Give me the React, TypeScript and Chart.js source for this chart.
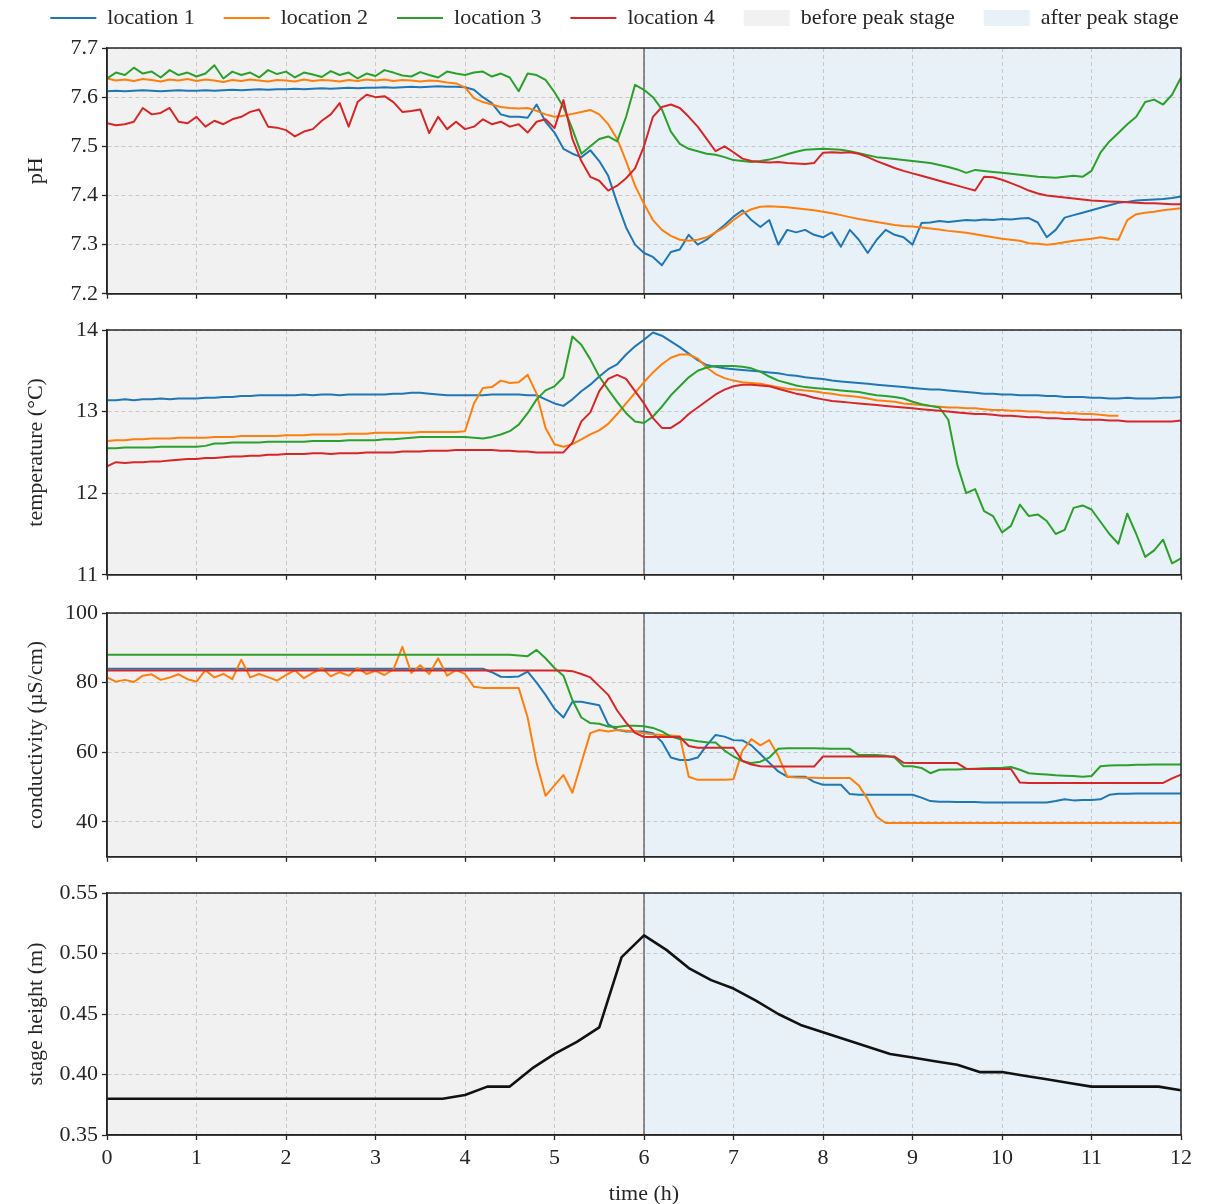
import React, { useEffect, useRef } from 'react';
import { Chart, registerables } from 'chart.js';

Chart.register(...registerables);

// ---------------- data ----------------
const TIME_H = [
  0, 0.1, 0.2, 0.3, 0.4, 0.5, 0.6, 0.7, 0.8, 0.9,
  1, 1.1, 1.2, 1.3, 1.4, 1.5, 1.6, 1.7, 1.8, 1.9,
  2, 2.1, 2.2, 2.3, 2.4, 2.5, 2.6, 2.7, 2.8, 2.9,
  3, 3.1, 3.2, 3.3, 3.4, 3.5, 3.6, 3.7, 3.8, 3.9,
  4, 4.1, 4.2, 4.3, 4.4, 4.5, 4.6, 4.7, 4.8, 4.9,
  5, 5.1, 5.2, 5.3, 5.4, 5.5, 5.6, 5.7, 5.8, 5.9,
  6, 6.1, 6.2, 6.3, 6.4, 6.5, 6.6, 6.7, 6.8, 6.9,
  7, 7.1, 7.2, 7.3, 7.4, 7.5, 7.6, 7.7, 7.8, 7.9,
  8, 8.1, 8.2, 8.3, 8.4, 8.5, 8.6, 8.7, 8.8, 8.9,
  9, 9.1, 9.2, 9.3, 9.4, 9.5, 9.6, 9.7, 9.8, 9.9,
  10, 10.1, 10.2, 10.3, 10.4, 10.5, 10.6, 10.7, 10.8, 10.9,
  11, 11.1, 11.2, 11.3, 11.4, 11.5, 11.6, 11.7, 11.8, 11.9,
  12,
];

const LOCATIONS = ['location 1', 'location 2', 'location 3', 'location 4'];
const STAGE_LABELS = ['before peak stage', 'after peak stage'];
const PEAK_TIME_H = 6;

const PH_LOC1 = [
  7.612, 7.613, 7.612, 7.613, 7.614, 7.613, 7.612, 7.613, 7.614, 7.613,
  7.613, 7.614, 7.613, 7.614, 7.615, 7.614, 7.615, 7.616, 7.615, 7.616,
  7.616, 7.617, 7.616, 7.617, 7.618, 7.617, 7.618, 7.619, 7.618, 7.619,
  7.619, 7.620, 7.619, 7.620, 7.621, 7.620, 7.621, 7.622, 7.621, 7.621,
  7.620, 7.615, 7.600, 7.588, 7.565, 7.560, 7.560, 7.558, 7.585, 7.550,
  7.528, 7.495, 7.485, 7.478, 7.492, 7.470, 7.440, 7.385, 7.335, 7.300,
  7.283, 7.275, 7.258, 7.285, 7.290, 7.320, 7.300, 7.310, 7.325, 7.340,
  7.357, 7.370, 7.350, 7.336, 7.350, 7.300, 7.330, 7.325, 7.330, 7.320,
  7.315, 7.325, 7.296, 7.330, 7.310, 7.283, 7.310, 7.330, 7.320, 7.315,
  7.300, 7.344, 7.345, 7.348, 7.346, 7.348, 7.350, 7.349, 7.351, 7.350,
  7.352, 7.351, 7.353, 7.354, 7.345, 7.315, 7.330, 7.355, 7.360, 7.365,
  7.370, 7.375, 7.380, 7.385, 7.387, 7.390, 7.391, 7.392, 7.393, 7.395,
  7.398,
];
const PH_LOC2 = [
  7.638, 7.634, 7.636, 7.633, 7.637, 7.635, 7.632, 7.636, 7.634, 7.637,
  7.633, 7.636, 7.634, 7.631, 7.635, 7.633, 7.636, 7.634, 7.632, 7.635,
  7.634, 7.632, 7.636, 7.633, 7.635, 7.634, 7.632, 7.635, 7.633, 7.636,
  7.634, 7.636, 7.633, 7.635, 7.634, 7.632, 7.634, 7.633, 7.630, 7.628,
  7.620, 7.598, 7.590, 7.585, 7.580, 7.578, 7.577, 7.578, 7.572, 7.565,
  7.560, 7.562, 7.566, 7.570, 7.574, 7.565, 7.545, 7.515, 7.470, 7.420,
  7.383, 7.350, 7.330, 7.318, 7.310, 7.308, 7.310, 7.315, 7.325, 7.335,
  7.350, 7.363, 7.372, 7.377, 7.378, 7.377, 7.376, 7.374, 7.372, 7.370,
  7.367, 7.364, 7.360, 7.356, 7.352, 7.349, 7.346, 7.343, 7.340, 7.338,
  7.337, 7.335, 7.333, 7.331, 7.328, 7.326, 7.324, 7.321, 7.318, 7.315,
  7.312, 7.310, 7.308, 7.303, 7.302, 7.300, 7.302, 7.305, 7.308, 7.310,
  7.312, 7.315, 7.312, 7.310, 7.350, 7.362, 7.365, 7.367, 7.370, 7.372,
  7.374,
];
const PH_LOC3 = [
  7.638, 7.650, 7.645, 7.660, 7.648, 7.652, 7.640, 7.655, 7.645, 7.650,
  7.642, 7.648, 7.665, 7.638, 7.652, 7.645, 7.650, 7.640, 7.655, 7.647,
  7.652, 7.640, 7.650, 7.646, 7.641, 7.653, 7.645, 7.650, 7.638, 7.648,
  7.643, 7.655, 7.650, 7.644, 7.642, 7.651, 7.645, 7.640, 7.652, 7.648,
  7.645, 7.650, 7.652, 7.642, 7.648, 7.640, 7.612, 7.648, 7.645, 7.635,
  7.610, 7.580, 7.535, 7.485, 7.500, 7.515, 7.520, 7.510, 7.560, 7.625,
  7.615, 7.600, 7.575, 7.530, 7.505, 7.495, 7.490, 7.485, 7.483, 7.478,
  7.472, 7.470, 7.468, 7.470, 7.473, 7.478, 7.484, 7.489, 7.493, 7.494,
  7.495, 7.494, 7.493, 7.490, 7.486, 7.482, 7.478, 7.476, 7.474, 7.472,
  7.470, 7.468, 7.466, 7.462, 7.458, 7.453, 7.446, 7.452, 7.450, 7.448,
  7.446, 7.444, 7.442, 7.440, 7.438, 7.437, 7.436, 7.438, 7.440, 7.438,
  7.450, 7.487, 7.510, 7.527, 7.545, 7.560, 7.590, 7.595, 7.585, 7.605,
  7.640,
];
const PH_LOC4 = [
  7.547, 7.543, 7.545, 7.550, 7.578, 7.565, 7.568, 7.578, 7.550, 7.547,
  7.560, 7.540, 7.552, 7.545, 7.555, 7.560, 7.570, 7.575, 7.540, 7.538,
  7.533, 7.520, 7.530, 7.535, 7.552, 7.565, 7.588, 7.540, 7.590, 7.605,
  7.600, 7.602, 7.590, 7.570, 7.572, 7.575, 7.527, 7.560, 7.535, 7.550,
  7.535, 7.540, 7.555, 7.545, 7.550, 7.540, 7.545, 7.528, 7.550, 7.555,
  7.537, 7.594, 7.515, 7.470, 7.438, 7.430, 7.410, 7.420, 7.435, 7.455,
  7.500, 7.560, 7.580, 7.585, 7.578, 7.560, 7.540, 7.515, 7.490, 7.500,
  7.488, 7.475, 7.470, 7.468, 7.467, 7.468, 7.466, 7.465, 7.464, 7.466,
  7.487, 7.488, 7.487, 7.488, 7.485, 7.478, 7.470, 7.463, 7.456, 7.450,
  7.445, 7.440, 7.435, 7.430, 7.425, 7.420, 7.415, 7.410, 7.438, 7.437,
  7.432, 7.425, 7.418, 7.410, 7.404, 7.400, 7.398, 7.396, 7.394, 7.392,
  7.390, 7.389, 7.388, 7.387, 7.386, 7.385, 7.384, 7.384, 7.383, 7.382,
  7.382,
];

const TEMP_LOC1 = [
  13.14, 13.14, 13.15, 13.14, 13.15, 13.15, 13.16, 13.15, 13.16, 13.16,
  13.16, 13.17, 13.17, 13.18, 13.18, 13.19, 13.19, 13.20, 13.20, 13.20,
  13.20, 13.20, 13.21, 13.20, 13.21, 13.21, 13.20, 13.21, 13.21, 13.21,
  13.21, 13.21, 13.22, 13.22, 13.23, 13.23, 13.22, 13.21, 13.20, 13.20,
  13.20, 13.20, 13.20, 13.21, 13.21, 13.21, 13.21, 13.20, 13.20, 13.15,
  13.10, 13.07, 13.15, 13.25, 13.33, 13.43, 13.52, 13.58, 13.70, 13.80,
  13.88, 13.97, 13.93, 13.86, 13.79, 13.71, 13.63, 13.57, 13.55, 13.53,
  13.52, 13.51, 13.50, 13.49, 13.48, 13.47, 13.45, 13.44, 13.42, 13.41,
  13.40, 13.38, 13.37, 13.36, 13.35, 13.34, 13.33, 13.32, 13.31, 13.30,
  13.29, 13.28, 13.27, 13.27, 13.26, 13.25, 13.24, 13.23, 13.22, 13.22,
  13.21, 13.21, 13.20, 13.20, 13.20, 13.19, 13.19, 13.18, 13.18, 13.18,
  13.17, 13.17, 13.16, 13.16, 13.17, 13.16, 13.16, 13.16, 13.17, 13.17,
  13.18,
];
const TEMP_LOC2 = [
  12.64, 12.65, 12.65, 12.66, 12.66, 12.67, 12.67, 12.67, 12.68, 12.68,
  12.68, 12.68, 12.69, 12.69, 12.69, 12.70, 12.70, 12.70, 12.70, 12.70,
  12.71, 12.71, 12.71, 12.72, 12.72, 12.72, 12.72, 12.73, 12.73, 12.73,
  12.74, 12.74, 12.74, 12.74, 12.74, 12.75, 12.75, 12.75, 12.75, 12.75,
  12.76, 13.10, 13.29, 13.30, 13.38, 13.35, 13.36, 13.45, 13.22, 12.80,
  12.60, 12.57, 12.60, 12.66, 12.72, 12.77, 12.85, 12.97, 13.10, 13.23,
  13.36, 13.48, 13.58, 13.66, 13.70, 13.70, 13.65, 13.54, 13.46, 13.41,
  13.38, 13.36, 13.35, 13.34, 13.32, 13.30, 13.28, 13.27, 13.26, 13.25,
  13.23, 13.22, 13.20, 13.19, 13.18, 13.16, 13.14, 13.13, 13.12, 13.10,
  13.09, 13.08, 13.07, 13.06, 13.05, 13.05, 13.04, 13.04, 13.03, 13.02,
  13.02, 13.01, 13.01, 13.00, 13.00, 12.99, 12.99, 12.98, 12.98, 12.97,
  12.97, 12.96, 12.95, 12.95, null, null, null, null, null, null,
  null,
];
const TEMP_LOC3 = [
  12.55, 12.55, 12.56, 12.56, 12.56, 12.56, 12.57, 12.57, 12.57, 12.57,
  12.57, 12.58, 12.61, 12.61, 12.62, 12.62, 12.62, 12.62, 12.63, 12.63,
  12.63, 12.63, 12.63, 12.64, 12.64, 12.64, 12.64, 12.65, 12.65, 12.65,
  12.65, 12.66, 12.66, 12.67, 12.68, 12.69, 12.69, 12.69, 12.69, 12.69,
  12.69, 12.68, 12.67, 12.69, 12.72, 12.76, 12.84, 12.98, 13.15, 13.26,
  13.31, 13.42, 13.92, 13.82, 13.64, 13.43, 13.27, 13.12, 12.98, 12.88,
  12.86, 12.94, 13.06, 13.20, 13.31, 13.42, 13.50, 13.54, 13.56, 13.56,
  13.56, 13.55, 13.53, 13.49, 13.43, 13.38, 13.35, 13.32, 13.30, 13.29,
  13.28, 13.27, 13.26, 13.25, 13.24, 13.22, 13.20, 13.19, 13.18, 13.16,
  13.12, 13.09, 13.07, 13.05, 12.90, 12.35, 12.00, 12.05, 11.78, 11.72,
  11.52, 11.60, 11.86, 11.72, 11.74, 11.66, 11.50, 11.55, 11.82, 11.85,
  11.80, 11.65, 11.50, 11.38, 11.75, 11.50, 11.22, 11.30, 11.43, 11.14,
  11.20,
];
const TEMP_LOC4 = [
  12.33, 12.38, 12.37, 12.38, 12.38, 12.39, 12.39, 12.40, 12.41, 12.42,
  12.42, 12.43, 12.43, 12.44, 12.45, 12.45, 12.46, 12.46, 12.47, 12.47,
  12.48, 12.48, 12.48, 12.49, 12.49, 12.48, 12.49, 12.49, 12.49, 12.50,
  12.50, 12.50, 12.50, 12.51, 12.51, 12.51, 12.52, 12.52, 12.52, 12.53,
  12.53, 12.53, 12.53, 12.53, 12.52, 12.52, 12.51, 12.51, 12.50, 12.50,
  12.50, 12.50, 12.62, 12.88, 12.99, 13.25, 13.40, 13.45, 13.40, 13.25,
  13.10, 12.92, 12.80, 12.80, 12.87, 12.97, 13.05, 13.13, 13.21, 13.27,
  13.31, 13.33, 13.33, 13.32, 13.31, 13.28, 13.25, 13.22, 13.20, 13.17,
  13.15, 13.13, 13.12, 13.11, 13.10, 13.09, 13.08, 13.07, 13.06, 13.05,
  13.04, 13.03, 13.02, 13.01, 13.00, 12.99, 12.98, 12.97, 12.97, 12.96,
  12.95, 12.95, 12.94, 12.93, 12.93, 12.92, 12.92, 12.91, 12.91, 12.90,
  12.90, 12.90, 12.89, 12.89, 12.88, 12.88, 12.88, 12.88, 12.88, 12.88,
  12.89,
];

const COND_LOC1 = [
  84.0, 84.0, 84.0, 84.0, 84.0, 84.0, 84.0, 84.0, 84.0, 84.0,
  84.0, 84.0, 84.0, 84.0, 84.0, 84.0, 84.0, 84.0, 84.0, 84.0,
  84.0, 84.0, 84.0, 84.0, 84.0, 84.0, 84.0, 84.0, 84.0, 84.0,
  84.0, 84.0, 84.0, 84.0, 84.0, 84.0, 84.0, 84.0, 84.0, 84.0,
  84.0, 84.0, 84.0, 83.0, 81.7, 81.6, 81.8, 83.2, 80.0, 76.5,
  72.5, 70.0, 74.5, 74.5, 74.0, 73.5, 68.0, 66.5, 66.0, 66.0,
  66.0, 65.5, 63.0, 58.5, 57.8, 57.8, 58.5, 62.0, 65.0, 64.5,
  63.5, 63.4, 62.0, 59.5, 57.0, 54.5, 53.0, 53.0, 53.0, 51.5,
  50.7, 50.7, 50.7, 48.0, 47.8, 47.8, 47.8, 47.8, 47.8, 47.8,
  47.8, 47.0, 46.0, 45.8, 45.8, 45.7, 45.7, 45.7, 45.6, 45.6,
  45.6, 45.6, 45.6, 45.6, 45.6, 45.6, 46.0, 46.5, 46.2, 46.3,
  46.3, 46.5, 47.8, 48.1, 48.1, 48.2, 48.2, 48.2, 48.2, 48.2,
  48.2,
];
const COND_LOC2 = [
  81.5, 80.3, 80.8, 80.2, 82.0, 82.4, 80.8, 81.5, 82.4, 81.0,
  80.3, 83.6, 81.5, 82.5, 81.0, 86.6, 81.5, 82.5, 81.6, 80.6,
  82.2, 83.5, 81.3, 82.8, 84.2, 81.8, 83.0, 82.0, 84.2, 82.5,
  83.4, 82.2, 83.8, 90.3, 82.8, 85.0, 82.5, 87.0, 82.0, 83.6,
  82.5, 78.8, 78.5, 78.5, 78.5, 78.5, 78.5, 70.0, 56.9, 47.5,
  50.5, 53.5, 48.4, 57.0, 65.5, 66.4, 66.0, 66.4, 66.2, 66.0,
  65.5, 65.2, 65.0, 64.8, 64.6, 53.0, 52.1, 52.1, 52.1, 52.1,
  52.3, 60.5, 63.8, 62.0, 63.5, 59.0, 53.0, 52.8, 52.7, 52.7,
  52.6, 52.6, 52.6, 52.6, 50.5, 46.5, 41.5, 39.7, 39.7, 39.7,
  39.7, 39.7, 39.7, 39.7, 39.7, 39.7, 39.7, 39.7, 39.7, 39.7,
  39.7, 39.7, 39.7, 39.7, 39.7, 39.7, 39.7, 39.7, 39.7, 39.7,
  39.7, 39.7, 39.7, 39.7, 39.7, 39.7, 39.7, 39.7, 39.7, 39.7,
  39.7,
];
const COND_LOC3 = [
  88.0, 88.0, 88.0, 88.0, 88.0, 88.0, 88.0, 88.0, 88.0, 88.0,
  88.0, 88.0, 88.0, 88.0, 88.0, 88.0, 88.0, 88.0, 88.0, 88.0,
  88.0, 88.0, 88.0, 88.0, 88.0, 88.0, 88.0, 88.0, 88.0, 88.0,
  88.0, 88.0, 88.0, 88.0, 88.0, 88.0, 88.0, 88.0, 88.0, 88.0,
  88.0, 88.0, 88.0, 88.0, 88.0, 88.0, 87.8, 87.6, 89.4, 87.0,
  84.2, 82.0, 75.0, 70.0, 68.4, 68.2, 67.4, 67.3, 67.6, 67.6,
  67.5, 67.0, 66.0, 64.5, 63.8, 63.6, 63.2, 62.9, 62.8, 60.5,
  58.8, 57.5, 56.9, 57.3, 58.5, 61.0, 61.2, 61.2, 61.2, 61.2,
  61.1, 61.0, 61.0, 61.0, 59.2, 59.2, 59.2, 59.0, 58.5, 56.0,
  56.0, 55.5, 54.0, 55.0, 55.1, 55.1, 55.2, 55.3, 55.4, 55.5,
  55.6, 55.8, 55.0, 54.0, 53.8, 53.6, 53.4, 53.3, 53.2, 53.0,
  53.2, 56.0, 56.2, 56.3, 56.3, 56.4, 56.4, 56.5, 56.5, 56.5,
  56.5,
];
const COND_LOC4 = [
  83.5, 83.5, 83.5, 83.5, 83.5, 83.5, 83.5, 83.5, 83.5, 83.5,
  83.5, 83.5, 83.5, 83.5, 83.5, 83.5, 83.5, 83.5, 83.5, 83.5,
  83.5, 83.5, 83.5, 83.5, 83.5, 83.5, 83.5, 83.5, 83.5, 83.5,
  83.5, 83.5, 83.5, 83.5, 83.5, 83.5, 83.5, 83.5, 83.5, 83.5,
  83.5, 83.5, 83.5, 83.5, 83.5, 83.5, 83.5, 83.5, 83.5, 83.5,
  83.5, 83.5, 83.3, 82.5, 81.5, 79.0, 76.5, 72.0, 68.5, 65.6,
  64.4, 64.4, 64.4, 64.4, 64.4, 61.8, 61.3, 61.3, 61.3, 61.3,
  61.3, 57.5, 56.5, 56.0, 55.9, 55.9, 55.9, 55.9, 55.9, 55.9,
  58.8, 58.8, 58.8, 58.8, 58.8, 58.8, 58.8, 58.8, 58.8, 57.0,
  56.9, 56.9, 56.9, 56.9, 56.9, 56.9, 55.3, 55.2, 55.2, 55.2,
  55.2, 55.2, 51.3, 51.2, 51.2, 51.2, 51.2, 51.2, 51.2, 51.2,
  51.2, 51.2, 51.2, 51.2, 51.2, 51.2, 51.2, 51.2, 51.2, 52.5,
  53.6,
];

const STAGE_TIME_H = [
  0, 0.25, 0.5, 0.75, 1, 1.25, 1.5, 1.75, 2, 2.25, 2.5, 2.75, 3, 3.25, 3.5, 3.75,
  4, 4.25, 4.5, 4.75, 5, 5.25, 5.5, 5.75, 6, 6.25, 6.5, 6.75, 7, 7.25, 7.5, 7.75,
  8, 8.25, 8.5, 8.75, 9, 9.25, 9.5, 9.75, 10, 10.25, 10.5, 10.75, 11, 11.25, 11.5, 11.75,
  12,
];
const STAGE_M = [
  0.380, 0.380, 0.380, 0.380, 0.380, 0.380, 0.380, 0.380, 0.380, 0.380, 0.380, 0.380, 0.380, 0.380, 0.380, 0.380,
  0.383, 0.390, 0.390, 0.405, 0.417, 0.427, 0.439, 0.497, 0.515, 0.503, 0.488, 0.478, 0.471, 0.461, 0.450, 0.441,
  0.435, 0.429, 0.423, 0.417, 0.414, 0.411, 0.408, 0.402, 0.402, 0.399, 0.396, 0.393, 0.390, 0.390, 0.390, 0.390,
  0.387,
];

const X_TICKS = [0, 1, 2, 3, 4, 5, 6, 7, 8, 9, 10, 11, 12];
const PH_TICKS = [7.2, 7.3, 7.4, 7.5, 7.6, 7.7];
const TEMP_TICKS = [11, 12, 13, 14];
const COND_TICKS = [40, 60, 80, 100];
const STAGE_TICKS = [0.35, 0.4, 0.45, 0.5, 0.55];

// ---------------- styles / geometry ----------------
const FONT_FAMILY = '"Liberation Serif", "Times New Roman", Times, serif';
const FONT_SIZE = 22;
const TEXT_COLOR = '#262626';
const AXIS_COLOR = '#262626';
const GRID_COLOR = 'rgba(150,150,150,0.45)';
const LINE_COLORS = ['#1f77b4', '#ff7f0e', '#2ca02c', '#d62728'];
const STAGE_LINE_COLOR = '#111111';
const BEFORE_BG = '#f1f1f1';
const AFTER_BG = '#e8f1f8';
const PEAK_LINE_COLOR = 'rgba(80,80,80,0.95)';
const CANVAS_W = 1211;
const Y_AXIS_W = 107;
const Y_TITLE_PAD = 23;
const RIGHT_GAP = 30;

type Panel = {
  id: string;
  top: number;
  height: number;
  areaTop: number;
  padLeft: number;
  xHeight: number;
  showX: boolean;
  legend: boolean;
  yMin: number;
  yMax: number;
  yTicks: number[];
  digits: number;
  title: string;
  series: { times: number[]; values: (number | null)[]; color: string; width: number; label: string }[];
};

const sensorSeries = (arrs: (number | null)[][]) =>
  arrs.map((values, i) => ({ times: TIME_H, values, color: LINE_COLORS[i], width: 2, label: LOCATIONS[i] }));

const PANELS: Panel[] = [
  {
    id: 'ph', top: -22, height: 333, areaTop: 70, padLeft: 18, xHeight: 17, showX: false, legend: true,
    yMin: 7.2, yMax: 7.7, yTicks: PH_TICKS, digits: 1, title: 'pH',
    series: sensorSeries([PH_LOC1, PH_LOC2, PH_LOC3, PH_LOC4]),
  },
  {
    id: 'temp', top: 313, height: 279, areaTop: 17, padLeft: 0, xHeight: 17, showX: false, legend: false,
    yMin: 11, yMax: 14, yTicks: TEMP_TICKS, digits: 0, title: 'temperature (°C)',
    series: sensorSeries([TEMP_LOC1, TEMP_LOC2, TEMP_LOC3, TEMP_LOC4]),
  },
  {
    id: 'cond', top: 596, height: 278, areaTop: 17, padLeft: 0, xHeight: 17, showX: false, legend: false,
    yMin: 30, yMax: 100, yTicks: COND_TICKS, digits: 0, title: 'conductivity (µS/cm)',
    series: sensorSeries([COND_LOC1, COND_LOC2, COND_LOC3, COND_LOC4]),
  },
  {
    id: 'stage', top: 876, height: 331, areaTop: 17, padLeft: 0, xHeight: 72, showX: true, legend: false,
    yMin: 0.35, yMax: 0.55, yTicks: STAGE_TICKS, digits: 2, title: 'stage height (m)',
    series: [{ times: STAGE_TIME_H, values: STAGE_M, color: STAGE_LINE_COLOR, width: 2.6, label: 'stage height' }],
  },
];

const font = { family: FONT_FAMILY, size: FONT_SIZE };

const stagePlugin = {
  id: 'peakStages',
  afterLayout(chart: any) {
    // keep the legend row at the very top of the canvas
    const lg = chart.legend;
    if (lg && lg.options && lg.options.display) {
      const h = lg.height;
      lg.top = 0;
      lg.bottom = h;
    }
  },
  beforeDraw(chart: any) {
    const { ctx, chartArea: a, scales } = chart;
    const x = scales.x;
    const xs = x.getPixelForValue(X_TICKS[0]);
    const xp = x.getPixelForValue(PEAK_TIME_H);
    const xe = x.getPixelForValue(X_TICKS[X_TICKS.length - 1]);
    ctx.save();
    ctx.fillStyle = BEFORE_BG;
    ctx.fillRect(xs, a.top, xp - xs, a.bottom - a.top);
    ctx.fillStyle = AFTER_BG;
    ctx.fillRect(xp, a.top, xe - xp, a.bottom - a.top);
    ctx.restore();
  },
  beforeDatasetsDraw(chart: any) {
    const { ctx, chartArea: a, scales } = chart;
    const xp = scales.x.getPixelForValue(PEAK_TIME_H);
    ctx.save();
    ctx.strokeStyle = PEAK_LINE_COLOR;
    ctx.lineWidth = 1.3;
    ctx.beginPath();
    ctx.moveTo(xp, a.top);
    ctx.lineTo(xp, a.bottom);
    ctx.stroke();
    ctx.restore();
  },
  afterDraw(chart: any) {
    const { ctx, chartArea: a } = chart;
    ctx.save();
    ctx.strokeStyle = AXIS_COLOR;
    ctx.lineWidth = 1.5;
    ctx.strokeRect(a.left, a.top, a.right - a.left, a.bottom - a.top);
    ctx.restore();
  },
};

function legendItems() {
  const lines = LOCATIONS.map((text, i) => ({
    text,
    fillStyle: LINE_COLORS[i],
    strokeStyle: LINE_COLORS[i],
    lineWidth: 2,
    pointStyle: 'line',
    hidden: false,
    datasetIndex: i,
    fontColor: TEXT_COLOR,
  }));
  const spans = STAGE_LABELS.map((text, i) => ({
    text,
    fillStyle: i === 0 ? BEFORE_BG : AFTER_BG,
    strokeStyle: 'rgba(0,0,0,0)',
    lineWidth: 0,
    pointStyle: 'rect',
    hidden: false,
    fontColor: TEXT_COLOR,
  }));
  return [...lines, ...spans];
}

function buildConfig(p: Panel): any {
  const datasets = p.series.map((s, i) => ({
    label: s.label,
    data: s.times.map((t, k) => ({ x: t, y: s.values[k] })),
    borderColor: s.color,
    backgroundColor: s.color,
    borderWidth: s.width,
    pointRadius: 0,
    tension: 0,
    fill: false,
    spanGaps: false,
    borderJoinStyle: 'round',
    order: p.series.length - i,
  }));
  const gridOpts = {
    color: GRID_COLOR,
    lineWidth: 1,
    drawTicks: true,
    tickLength: 5,
    tickColor: AXIS_COLOR,
    tickWidth: 1.3,
    tickBorderDash: [],
  };
  return {
    type: 'line',
    data: { datasets },
    plugins: [stagePlugin],
    options: {
      animation: false,
      responsive: false,
      maintainAspectRatio: false,
      events: [],
      layout: { padding: { top: p.legend ? 0 : p.areaTop, left: p.padLeft, right: 0, bottom: 0 } },
      plugins: {
        tooltip: { enabled: false },
        legend: p.legend
          ? {
              display: true,
              position: 'top',
              align: 'center',
              labels: {
                usePointStyle: true,
                pointStyleWidth: 46,
                boxHeight: 16,
                padding: 29,
                font,
                color: TEXT_COLOR,
                generateLabels: legendItems,
              },
            }
          : { display: false },
      },
      scales: {
        x: {
          type: 'linear',
          min: X_TICKS[0],
          max: X_TICKS[X_TICKS.length - 1],
          afterBuildTicks: (s: any) => {
            s.ticks = X_TICKS.map((v) => ({ value: v }));
          },
          afterFit: (s: any) => {
            s.height = p.xHeight;
            s.paddingRight = RIGHT_GAP;
          },
          ticks: {
            display: p.showX,
            font,
            color: TEXT_COLOR,
            padding: 5,
            maxRotation: 0,
            autoSkip: false,
            callback: (v: any) => String(v),
          },
          grid: gridOpts,
          border: { display: true, color: AXIS_COLOR, width: 1.5, dash: [4, 3] },
          title: { display: p.showX, text: 'time (h)', font, color: TEXT_COLOR, padding: 0 },
        },
        y: {
          type: 'linear',
          min: p.yMin,
          max: p.yMax,
          afterBuildTicks: (s: any) => {
            s.ticks = p.yTicks.map((v) => ({ value: v }));
          },
          afterFit: (s: any) => {
            s.width = Y_AXIS_W - p.padLeft;
            s.paddingTop = p.areaTop;
          },
          ticks: {
            font,
            color: TEXT_COLOR,
            padding: 4,
            callback: (v: any) => Number(v).toFixed(p.digits),
          },
          grid: gridOpts,
          border: { display: true, color: AXIS_COLOR, width: 1.5, dash: [4, 3] },
          title: {
            display: true,
            text: p.title,
            font,
            color: TEXT_COLOR,
            padding: { top: Y_TITLE_PAD - p.padLeft, bottom: 0 },
          },
        },
      },
    },
  };
}

function PanelChart({ panel }: { panel: Panel }) {
  const ref = useRef<HTMLCanvasElement | null>(null);
  useEffect(() => {
    if (!ref.current) return;
    const chart = new Chart(ref.current, buildConfig(panel));
    return () => chart.destroy();
  }, [panel]);
  return (
    <canvas
      ref={ref}
      width={CANVAS_W}
      height={panel.height}
      style={{ position: 'absolute', left: 0, top: panel.top, width: CANVAS_W, height: panel.height, display: 'block' }}
    />
  );
}

export default function App() {
  Chart.defaults.font.family = FONT_FAMILY;
  Chart.defaults.color = TEXT_COLOR;
  return (
    <div
      style={{
        position: 'fixed',
        left: 0,
        top: 0,
        width: CANVAS_W,
        height: 1204,
        overflow: 'hidden',
        background: '#ffffff',
      }}
    >
      {PANELS.map((p) => (
        <PanelChart key={p.id} panel={p} />
      ))}
    </div>
  );
}
